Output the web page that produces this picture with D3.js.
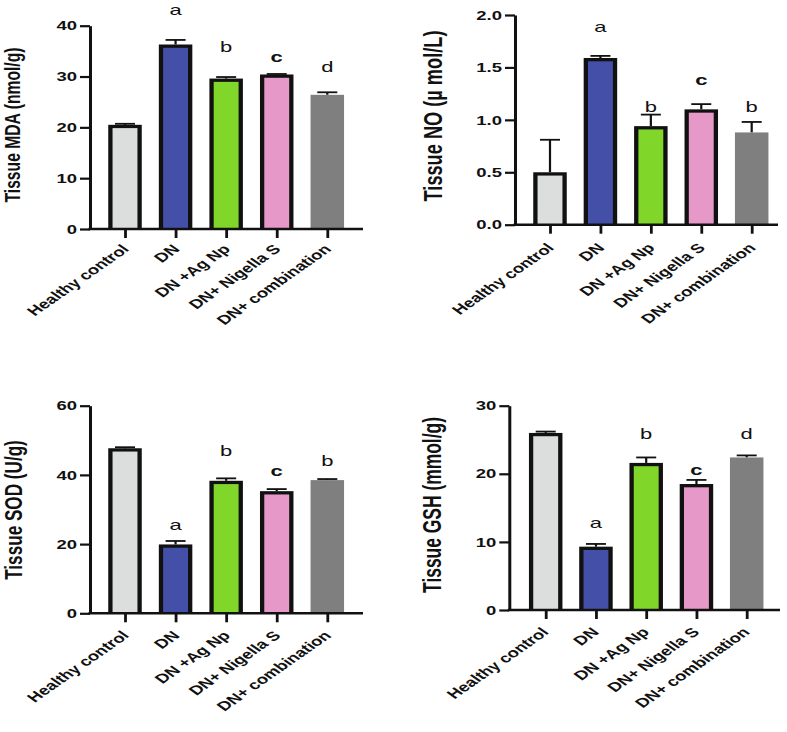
<!DOCTYPE html>
<html>
<head>
<meta charset="utf-8">
<script src="https://cdn.jsdelivr.net/npm/d3@7"></script>
<style>
html,body{margin:0;padding:0;background:#fff;}
svg{display:block;}
text{font-family:"Liberation Sans",Arial,Helvetica,sans-serif;}
</style>
</head>
<body>
<svg id="chart" width="787" height="732"></svg>
<script>
// ---------------- data ----------------
const categories = ["Healthy control", "DN", "DN +Ag Np", "DN+ Nigella S", "DN+ combination"];
const barColors = ["#dcdedd", "#4450a8", "#80d629", "#e699c8", "#7f7f7f"];
const bordered = [true, true, true, true, false];

const mdaMean = [20.5, 36.3, 29.6, 30.4, 26.4];
const mdaErr = [0.2, 0.9, 0.3, 0.1, 0.5];
const mdaLetters = ["", "a", "b", "c", "d"];
const mdaLetterLevel = [null, 42.1, 34.8, 32.9, 30.9];
const mdaTicks = [0, 10, 20, 30, 40];

const noMean = [0.50, 1.59, 0.94, 1.10, 0.88];
const noErr = [0.31, 0.02, 0.11, 0.05, 0.10];
const noLetters = ["", "a", "b", "c", "b"];
const noLetterLevel = [null, 1.84, 1.072, 1.332, 1.072];
const noTicks = [0, 0.5, 1.0, 1.5, 2.0];

const sodMean = [47.7, 19.9, 38.3, 35.3, 38.5];
const sodErr = [0.3, 1.0, 0.7, 0.6, 0.3];
const sodLetters = ["", "a", "b", "c", "b"];
const sodLetterLevel = [null, 24.1, 45.5, 39.7, 42.6];
const sodTicks = [0, 20, 40, 60];

const gshMean = [26.0, 9.3, 21.6, 18.5, 22.4];
const gshErr = [0.2, 0.4, 0.8, 0.6, 0.3];
const gshLetters = ["", "a", "b", "c", "d"];
const gshLetterLevel = [null, 12.0, 25.1, 19.8, 25.1];
const gshTicks = [0, 10, 20, 30];

// ---------------- layout ----------------
const SQ = 0.7; // vertical squash of the text seen in the figure
const panels = [
  {title: "Tissue MDA (nmol/g)", mean: mdaMean, err: mdaErr, letters: mdaLetters, lvl: mdaLetterLevel, ticks: mdaTicks, fmt: d3.format("d"),
   left: 90, right: 363, top: 25.7, bottom: 229, t0: 125, t1: 327.3, labX: 12.5, labY: 125, labFont: 22.4, xdy: 21, xdx: 5},
  {title: "Tissue NO (\u00b5 mol/L)", mean: noMean, err: noErr, letters: noLetters, lvl: noLetterLevel, ticks: noTicks, fmt: d3.format(".1f"),
   left: 515, right: 778, top: 15, bottom: 224.7, t0: 550, t1: 751.7, labX: 433, labY: 116, labFont: 26, xdy: 24, xdx: 5},
  {title: "Tissue SOD (U/g)", mean: sodMean, err: sodErr, letters: sodLetters, lvl: sodLetterLevel, ticks: sodTicks, fmt: d3.format("d"),
   left: 90, right: 363, top: 405.7, bottom: 613.3, t0: 125, t1: 327.3, labX: 13, labY: 510, labFont: 24.5, xdy: 23, xdx: 5},
  {title: "Tissue GSH (mmol/g)", mean: gshMean, err: gshErr, letters: gshLetters, lvl: gshLetterLevel, ticks: gshTicks, fmt: d3.format("d"),
   left: 509.3, right: 780, top: 405.7, bottom: 610, t0: 545.7, t1: 746.7, labX: 432, labY: 505, labFont: 24.9, xdy: 23, xdx: 4}
];

const svg = d3.select("#chart");
const ink = "#111111";
const barW = 33.5, sideB = 4.3, topB = 3.3, capW = 20;

panels.forEach(p => {
  const g = svg.append("g");
  const y = d3.scaleLinear().domain([p.ticks[0], p.ticks[p.ticks.length - 1]]).range([p.bottom, p.top]);
  const x = d3.scalePoint().domain(categories).range([p.t0, p.t1]);
  const rows = categories.map((c, i) => ({c, i, v: p.mean[i], e: p.err[i], col: barColors[i], b: bordered[i], l: p.letters[i], lv: p.lvl[i]}));

  // error bars (upper half only)
  const eb = g.append("g").attr("stroke", ink).attr("fill", "none");
  eb.selectAll("line.v").data(rows).join("line").attr("class", "v")
    .attr("x1", d => x(d.c)).attr("x2", d => x(d.c))
    .attr("y1", d => y(d.v)).attr("y2", d => y(d.v + d.e)).attr("stroke-width", 2.2);
  eb.selectAll("line.cap").data(rows).join("line").attr("class", "cap")
    .attr("x1", d => x(d.c) - capW / 2).attr("x2", d => x(d.c) + capW / 2)
    .attr("y1", d => y(d.v + d.e)).attr("y2", d => y(d.v + d.e)).attr("stroke-width", 1.8);

  // bars: dark frame + coloured fill
  const bars = g.append("g");
  bars.selectAll("rect.outer").data(rows.filter(d => d.b)).join("rect").attr("class", "outer")
    .attr("x", d => x(d.c) - barW / 2).attr("y", d => y(d.v))
    .attr("width", barW).attr("height", d => p.bottom - y(d.v)).attr("fill", ink);
  bars.selectAll("rect.inner").data(rows).join("rect").attr("class", "inner")
    .attr("x", d => d.b ? x(d.c) - barW / 2 + sideB : x(d.c) - barW / 2)
    .attr("y", d => d.b ? y(d.v) + topB : y(d.v))
    .attr("width", d => d.b ? barW - 2 * sideB : barW)
    .attr("height", d => d.b ? p.bottom - y(d.v) - topB : p.bottom - y(d.v))
    .attr("fill", d => d.col);

  // y axis
  const ya = g.append("g").attr("transform", `translate(${p.left},0)`)
    .call(d3.axisLeft(y).tickValues(p.ticks).tickFormat(p.fmt).tickSize(10).tickPadding(3).tickSizeOuter(0));
  ya.select(".domain").attr("stroke", ink).attr("stroke-width", 3);
  ya.selectAll(".tick line").attr("stroke", ink).attr("stroke-width", 2.2);
  ya.selectAll(".tick text").attr("fill", ink).attr("font-size", 18.5).attr("font-weight", "bold")
    .attr("transform", `scale(1,${SQ})`);

  // x axis
  const xa = g.append("g").attr("transform", `translate(0,${p.bottom})`)
    .call(d3.axisBottom(x).tickSize(9).tickFormat(""));
  xa.select(".domain").remove();
  xa.selectAll(".tick line").attr("stroke", ink).attr("stroke-width", 2.8);
  xa.append("line").attr("x1", p.left - 1.5).attr("x2", p.right).attr("y1", 0).attr("y2", 0)
    .attr("stroke", ink).attr("stroke-width", 2.4);

  // x labels
  g.append("g").selectAll("text").data(rows).join("text")
    .attr("transform", d => `translate(${x(d.c) + p.xdx},${p.bottom + p.xdy}) scale(1,${SQ}) rotate(-45)`)
    .attr("text-anchor", "end").attr("font-size", 18.5).attr("font-weight", "bold").attr("fill", ink)
    .text(d => d.c);

  // significance letters
  g.append("g").selectAll("text").data(rows.filter(d => d.l)).join("text")
    .attr("transform", d => `translate(${x(d.c)},${y(d.lv)}) scale(1,${SQ})`)
    .attr("text-anchor", "middle").attr("font-size", 22)
    .attr("font-weight", d => d.l === "c" ? "bold" : "normal").attr("fill", ink)
    .text(d => d.l);

  // y title
  g.append("text")
    .attr("transform", `translate(${p.labX},${p.labY}) scale(1,${SQ}) rotate(-90)`)
    .attr("text-anchor", "middle").attr("dy", "0.35em")
    .attr("font-size", p.labFont).attr("font-weight", "bold").attr("fill", ink)
    .text(p.title);
});
</script>
</body>
</html>
